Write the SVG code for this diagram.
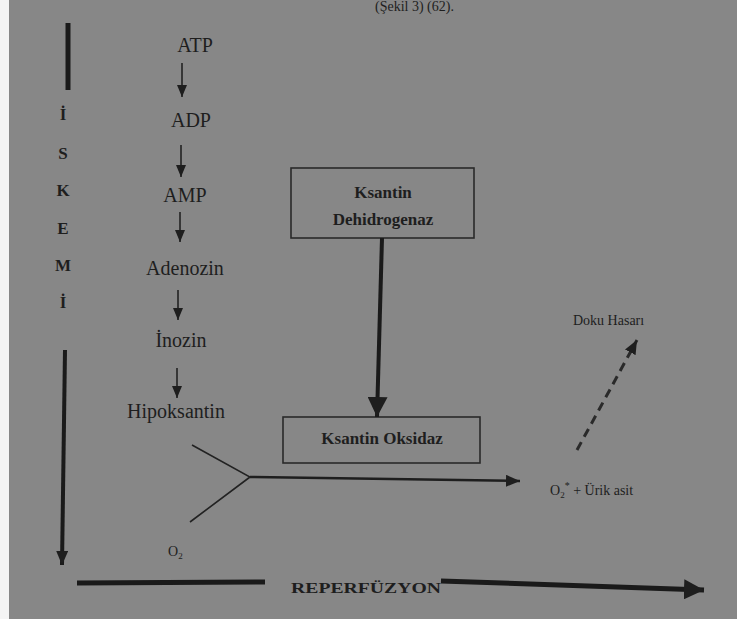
<svg xmlns="http://www.w3.org/2000/svg" width="737" height="619" viewBox="0 0 737 619">
<defs>
<style>
.t{font-family:"Liberation Serif","Times New Roman",serif;fill:#1e1e1e}
.m{font-size:20px;text-anchor:middle}
.b{font-weight:bold;font-size:17px;text-anchor:middle}
.s{font-size:14px}
.l{font-size:17px;font-weight:bold;text-anchor:middle}
.thin{stroke:#222;stroke-width:1.6;fill:none}
.box{stroke:#2a2a2a;stroke-width:1.6;fill:none}
</style>
<marker id="sm" markerUnits="userSpaceOnUse" viewBox="0 0 12 10" markerWidth="12" markerHeight="10" refX="12" refY="5" orient="auto"><path d="M0,0 L12,5 L0,10 z" fill="#1e1e1e"/></marker>
<marker id="md" markerUnits="userSpaceOnUse" viewBox="0 0 14 12" markerWidth="14" markerHeight="12" refX="14" refY="6" orient="auto"><path d="M0,0 L14,6 L0,12 z" fill="#1e1e1e"/></marker>
<marker id="bg" markerUnits="userSpaceOnUse" viewBox="0 0 20 20" markerWidth="20" markerHeight="20" refX="20" refY="10" orient="auto"><path d="M0,0 L20,10 L0,20 z" fill="#1e1e1e"/></marker>
</defs>
<rect width="737" height="619" fill="#878787"/>
<rect width="9" height="619" fill="#f4f4f4"/>
<text class="t" x="375" y="11" font-size="14">(Şekil 3) (62).</text>

<g id="iskemi">
<line x1="68" y1="23" x2="68" y2="90" stroke="#1a1a1a" stroke-width="5"/>
<text class="t l" x="63" y="120">İ</text>
<text class="t l" x="63" y="159">S</text>
<text class="t l" x="63" y="196">K</text>
<text class="t l" x="63" y="234">E</text>
<text class="t l" x="63" y="271">M</text>
<text class="t l" x="63" y="308">İ</text>
</g>

<g id="atp"><text class="t m" x="195" y="52">ATP</text></g>
<g id="adp"><text class="t m" x="191" y="127">ADP</text></g>
<g id="amp"><text class="t m" x="185" y="202">AMP</text></g>
<g id="adenozin"><text class="t m" x="185" y="275">Adenozin</text></g>
<g id="inozin"><text class="t m" x="181" y="347">İnozin</text></g>
<g id="hipoksantin"><text class="t m" x="176" y="418">Hipoksantin</text></g>

<g id="ksantin-dehidrogenaz">
<rect class="box" x="291" y="168" width="183" height="70"/>
<text class="t b" x="383" y="198">Ksantin</text>
<text class="t b" x="383" y="225">Dehidrogenaz</text>
</g>
<g id="ksantin-oksidaz">
<rect class="box" x="283" y="417" width="197" height="46"/>
<text class="t b" x="382" y="444">Ksantin Oksidaz</text>
</g>
<g id="urun">
<text class="t s" x="550" y="495">O<tspan font-size="9" dy="3">2</tspan><tspan font-size="10" dy="-9">*</tspan><tspan dy="6"> + Ürik asit</tspan></text>
</g>
<g id="doku-hasari"><text class="t s" x="573" y="325">Doku Hasarı</text></g>
<g id="o2"><text class="t s" x="168" y="556">O<tspan font-size="9" dy="3">2</tspan></text></g>
<g id="reperfuzyon"><text class="t" x="291" y="593" font-size="15" font-weight="bold" textLength="150" lengthAdjust="spacingAndGlyphs">REPERFÜZYON</text></g>

<g id="connectors">
<line class="thin" x1="182" y1="63" x2="182" y2="97" marker-end="url(#sm)"/>
<line class="thin" x1="181" y1="145" x2="181" y2="177" marker-end="url(#sm)"/>
<line class="thin" x1="180" y1="212" x2="180" y2="242" marker-end="url(#sm)"/>
<line class="thin" x1="178" y1="290" x2="178" y2="320" marker-end="url(#sm)"/>
<line class="thin" x1="177" y1="368" x2="177" y2="398" marker-end="url(#sm)"/>
<line x1="382" y1="238" x2="377" y2="417" stroke="#1a1a1a" stroke-width="4" marker-end="url(#bg)"/>
<polyline class="thin" points="192,445 250,477 190,522" stroke-width="2"/>
<line x1="250" y1="477" x2="520" y2="481" stroke="#1e1e1e" stroke-width="2.5" marker-end="url(#md)"/>
<line x1="577" y1="450" x2="637" y2="340" stroke="#2a2a2a" stroke-width="3" stroke-dasharray="9,6" marker-end="url(#md)"/>
<line x1="65" y1="350" x2="62" y2="565" stroke="#1a1a1a" stroke-width="4" marker-end="url(#md)"/>
<line x1="77" y1="583" x2="265" y2="582" stroke="#1a1a1a" stroke-width="5"/>
<line x1="441" y1="581" x2="704" y2="590" stroke="#1a1a1a" stroke-width="5" marker-end="url(#bg)"/>
</g>
</svg>
